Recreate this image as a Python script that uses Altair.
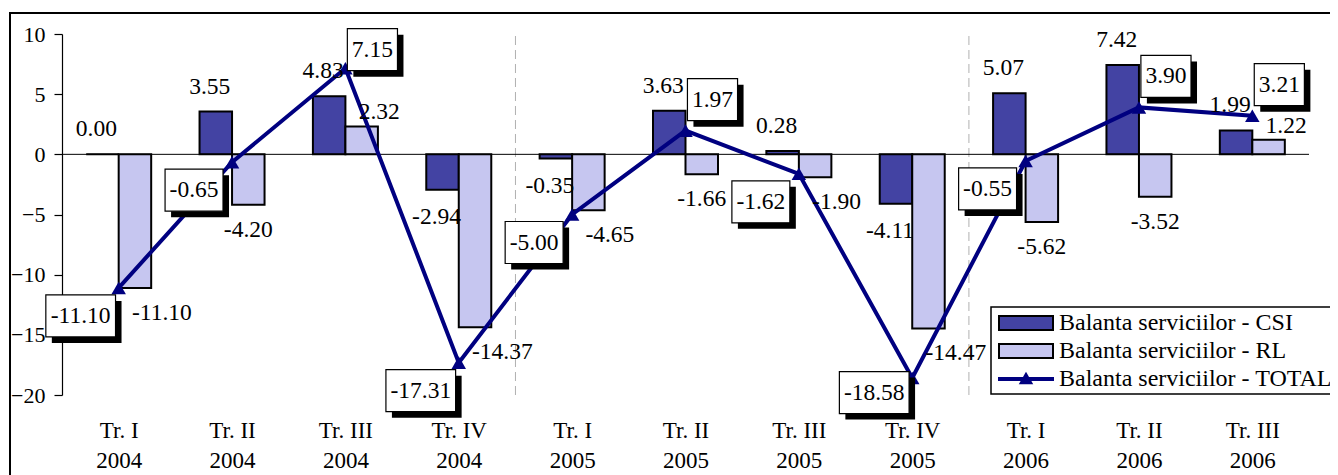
import json
import altair as alt
import pandas as pd

# ---------------- data ----------------
quarters = ["Tr. I", "Tr. II", "Tr. III", "Tr. IV", "Tr. I", "Tr. II", "Tr. III", "Tr. IV",
            "Tr. I", "Tr. II", "Tr. III"]
years = ["2004", "2004", "2004", "2004", "2005", "2005", "2005", "2005", "2006", "2006", "2006"]
csi = [0.00, 3.55, 4.83, -2.94, -0.35, 3.63, 0.28, -4.11, 5.07, 7.42, 1.99]
rl = [-11.10, -4.20, 2.32, -14.37, -4.65, -1.66, -1.90, -14.47, -5.62, -3.52, 1.22]
total = [-11.10, -0.65, 7.15, -17.31, -5.00, 1.97, -1.62, -18.58, -0.55, 3.90, 3.21]
series = ["Balanta serviciilor - CSI", "Balanta serviciilor - RL", "Balanta serviciilor - TOTAL"]
y_ticks = [-20, -15, -10, -5, 0, 5, 10]

# label style: how each RL value label is anchored to its bar (as placed in the original)
rl_label_align = ["left", "center", "left", "left", "left", "center", "left", "left",
                  "center", "center", "left"]

# ---------------- layout / style ----------------
W, H = 1247, 361
N = len(quarters)
PX = W / N            # px per category
PY = H / 30.0         # px per y unit
BW = 32.5 / PX        # bar width in category units
FONT = "Liberation Serif"
FS = 23.5
CSI_COL = "#4343a3"
RL_COL = "#c6c6f0"
LINE_COL = "#000080"

df = pd.DataFrame({"i": list(range(N)), "csi": csi, "rl": rl, "total": total,
                   "q": quarters, "yr": years, "rl_al": rl_label_align})
df["csi_t"] = [f"{v:.2f}" for v in csi]
df["rl_t"] = [f"{v:.2f}" for v in rl]
df["tot_t"] = [f"{v:.2f}" for v in total]

bounds = pd.DataFrame({"b": [i - 0.5 for i in range(1, N) if years[i] != years[i - 1]]})

xlabels = [f"{q}|{y}" for q, y in zip(quarters, years)]
xaxis = alt.Axis(values=list(range(N)), labelExpr="split(" + json.dumps(xlabels) + "[datum.value], '|')",
                 domain=False, ticks=False, grid=False, labelFont=FONT, labelFontSize=23,
                 labelColor="black", labelPadding=24, labelLineHeight=30, labelBaseline="top")
yaxis = alt.Axis(values=y_ticks, grid=False, domainColor="black", domainWidth=1.2, tickColor="black",
                 tickSize=8, tickWidth=1.2, labelFont=FONT, labelFontSize=22, labelColor="black",
                 labelPadding=9)
xscale = alt.Scale(domain=[-0.5, N - 0.5], nice=False, zero=False)
yscale = alt.Scale(domain=[-20, 10], nice=False, zero=False)


def X(f, **kw):
    return alt.X(f, type="quantitative", scale=xscale, axis=xaxis, title=None, **kw)


def Y(f, **kw):
    return alt.Y(f, type="quantitative", scale=yscale, axis=yaxis, title=None, **kw)


base = alt.Chart(df)

frame = alt.Chart(pd.DataFrame({"a": [0]})).mark_rect(
    fill="transparent", stroke="black", strokeWidth=2, clip=False).encode(
    x=alt.value(-52), x2=alt.value(W + 60), y=alt.value(-21), y2=alt.value(H + 150))

dashes = alt.Chart(bounds).mark_rule(color="#b0b0b0", strokeDash=[9, 5], strokeWidth=1).encode(
    x=X("b"), y=alt.datum(-20), y2=alt.datum(10))

bars_csi = base.transform_calculate(x1=f"datum.i - {BW}", x2="datum.i", y0="0").mark_bar(
    color=CSI_COL, stroke="black", strokeWidth=2).encode(
    x=X("x1"), x2="x2:Q", y=Y("y0"), y2="csi:Q")
bars_rl = base.transform_calculate(x1="datum.i", x2=f"datum.i + {BW}", y0="0").mark_bar(
    color=RL_COL, stroke="black", strokeWidth=2).encode(
    x=X("x1"), x2="x2:Q", y=Y("y0"), y2="rl:Q")

zero = alt.Chart(pd.DataFrame({"a": [-0.5], "b": [N - 0.5], "z": [0]})).mark_rule(
    color="black", strokeWidth=1).encode(x=X("a"), x2="b:Q", y=Y("z"))

line = base.mark_line(color=LINE_COL, strokeWidth=4).encode(x=X("i"), y=Y("total"))
pts = base.mark_point(shape="triangle-up", filled=True, size=210, color=LINE_COL, opacity=1).encode(
    x=X("i"), y=Y("total"))

txt = dict(font=FONT, fontSize=FS, color="black", align="center", baseline="middle")
lab_csi = base.transform_calculate(
    lx=f"datum.i - {BW / 2} - {6 / PX}",
    ly=f"datum.csi >= 0 ? datum.csi + {25 / PY} : datum.csi - {27 / PY}").mark_text(**txt).encode(
    x=X("lx"), y=Y("ly"), text="csi_t:N")

rl_base = base.transform_calculate(
    lx=f"datum.i + {BW / 2} - {3 / PX}",
    ly=f"datum.rl >= 0 ? datum.rl + {14 / PY} : datum.rl - {25 / PY}")
lab_rl_left = rl_base.transform_filter("datum.rl_al == 'left'").mark_text(
    **{**txt, "align": "left"}).encode(x=X("lx"), y=Y("ly"), text="rl_t:N")
lab_rl_center = rl_base.transform_filter("datum.rl_al == 'center'").transform_calculate(
    lc=f"datum.i + {BW / 2}").mark_text(**txt).encode(x=X("lc"), y=Y("ly"), text="rl_t:N")

# TOTAL labels: boxed, placed up-right of positive points and down-left of negative ones,
# kept inside the value range of the axis
box_calc = dict(
    bx=f"datum.i + (datum.total < 0 ? {-38 / PX} : {27 / PX})",
    by=f"clamp(datum.total + (datum.total < 0 ? {-28 / PY} : {31 / PY}), -19.8, 8.7)",
    wpx=f"{FS} * (0.5 * (length(datum.tot_t) - 1) + 0.25 - (datum.total < 0 ? 0.167 : 0)) + 9",
)
boxes_base = base.transform_calculate(**box_calc).transform_calculate(
    bx1=f"datum.bx - datum.wpx / 2 / {PX}", bx2=f"datum.bx + datum.wpx / 2 / {PX}",
    by1=f"datum.by - {21 / PY}", by2=f"datum.by + {21 / PY}",
    sx1=f"datum.bx - datum.wpx / 2 / {PX} + {6 / PX}", sx2=f"datum.bx + datum.wpx / 2 / {PX} + {6 / PX}",
    sy1=f"datum.by - {21 / PY} - {6 / PY}", sy2=f"datum.by + {21 / PY} - {6 / PY}")
shadow = boxes_base.mark_rect(color="black").encode(x=X("sx1"), x2="sx2:Q", y=Y("sy1"), y2="sy2:Q")
boxes = boxes_base.mark_rect(fill="white", stroke="black", strokeWidth=1.2).encode(
    x=X("bx1"), x2="bx2:Q", y=Y("by1"), y2="by2:Q")
box_txt = boxes_base.mark_text(**txt).encode(x=X("bx"), y=Y("by"), text="tot_t:N")

# ---------------- legend ----------------
one = pd.DataFrame({"a": [0]})
LX0, LY0 = 929, 273
leg_box = alt.Chart(one).mark_rect(fill="white", stroke="black", strokeWidth=1.5).encode(
    x=alt.value(LX0), x2=alt.value(LX0 + 345), y=alt.value(LY0), y2=alt.value(LY0 + 87))
leg_csi = alt.Chart(one).mark_rect(color=CSI_COL, stroke="black", strokeWidth=2).encode(
    x=alt.value(LX0 + 8), x2=alt.value(LX0 + 62), y=alt.value(LY0 + 9), y2=alt.value(LY0 + 23))
leg_rl = alt.Chart(one).mark_rect(color=RL_COL, stroke="black", strokeWidth=2).encode(
    x=alt.value(LX0 + 8), x2=alt.value(LX0 + 62), y=alt.value(LY0 + 37), y2=alt.value(LY0 + 51))
leg_line = alt.Chart(one).mark_rule(color=LINE_COL, strokeWidth=4).encode(
    x=alt.value(LX0 + 7), x2=alt.value(LX0 + 63), y=alt.value(LY0 + 72))
leg_pt = alt.Chart(one).mark_point(shape="triangle-up", filled=True, size=210, color=LINE_COL,
                                   opacity=1).encode(x=alt.value(LX0 + 35), y=alt.value(LY0 + 71))
leg_txt = [alt.Chart(one).mark_text(font=FONT, fontSize=24, color="black", align="left",
                                    baseline="middle").encode(
    x=alt.value(LX0 + 68), y=alt.value(LY0 + 16 + 28 * k), text=alt.value(series[k])) for k in range(3)]

chart = alt.layer(
    frame, dashes, bars_csi, bars_rl, zero, line, pts, lab_csi, lab_rl_left, lab_rl_center,
    shadow, boxes, box_txt,
    leg_box, leg_csi, leg_rl, leg_line, leg_pt, *leg_txt
).properties(
    width=W, height=H,
    autosize=alt.AutoSizeParams(type="none"),
    padding={"left": 54, "top": 26, "right": 21, "bottom": 80},
    background="white",
).configure_view(stroke=None)

chart.save("out.html", embed_options={"renderer": "svg", "actions": False})
